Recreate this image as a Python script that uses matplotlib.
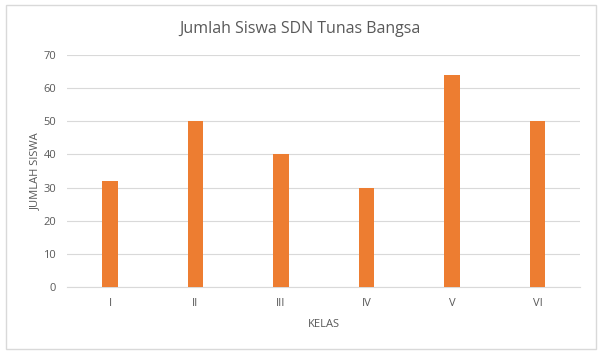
import matplotlib.pyplot as plt
from matplotlib.patches import Rectangle

# data
kelas = ["I", "II", "III", "IV", "V", "VI"]
jumlah = [32, 50, 40, 30, 64, 50]

abu = "#595959"
plt.rcParams["font.family"] = ["Open Sans", "DejaVu Sans"]

fig = plt.figure(figsize=(6, 3.54), dpi=100)
ax = fig.add_axes([0.112, 0.189, 0.855, 0.656])

x = range(len(kelas))
ax.bar(x, jumlah, width=0.18, color="#ED7D31", zorder=3)

ax.set_xlim(-0.5, len(kelas) - 0.5)
ax.set_ylim(0, 70)
ax.set_yticks(range(0, 71, 10))
ax.set_xticks(list(x))
ax.set_xticklabels(kelas)
ax.grid(axis="y", color="#D9D9D9", linewidth=0.8, zorder=0)

for s in ["top", "right", "left"]:
    ax.spines[s].set_visible(False)
ax.spines["bottom"].set_color("#D9D9D9")
ax.tick_params(length=0, colors=abu, labelsize=8, pad=8)

ax.set_xlabel("KELAS", color=abu, fontsize=8, labelpad=7)
ax.set_ylabel("JUMLAH SISWA", color=abu, fontsize=8, labelpad=2)
fig.suptitle("Jumlah Siswa SDN Tunas Bangsa", color=abu, fontsize=11.5, y=0.94)

# chart border
fig.patches.append(Rectangle((0.01, 0.015), 0.983, 0.97, transform=fig.transFigure,
                             fill=False, edgecolor="#D9D9D9", linewidth=1))

fig.savefig("out.png", dpi=100)
